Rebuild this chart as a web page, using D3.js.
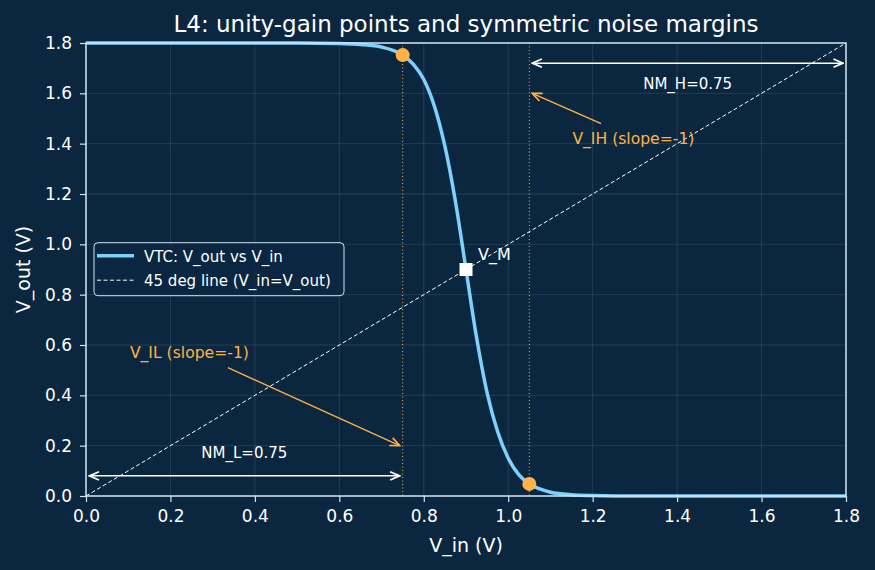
<!DOCTYPE html>
<html>
<head>
<meta charset="utf-8">
<script src="https://cdn.jsdelivr.net/npm/d3@7"></script>
<style>
  body { margin: 0; background: #0b2740; }
  text { font-family: "DejaVu Sans", sans-serif; }
</style>
</head>
<body>
<div id="chart"></div>
<script>
// VTC
const vinValues  = [0, 0.1, 0.2, 0.3, 0.4, 0.5, 0.6, 0.65, 0.7, 0.75, 0.775, 0.8, 0.825, 0.85, 0.875, 0.9,
                    0.925, 0.95, 0.975, 1.0, 1.025, 1.05, 1.075, 1.1, 1.15, 1.2, 1.3, 1.4, 1.5, 1.6, 1.7, 1.8];
const voutValues = [1.8, 1.8, 1.8, 1.8, 1.8, 1.8, 1.798, 1.794, 1.784, 1.752, 1.716, 1.655, 1.55, 1.39, 1.17, 0.9,
                    0.63, 0.41, 0.255, 0.15, 0.085, 0.048, 0.028, 0.015, 0.005, 0.002, 0, 0, 0, 0, 0, 0];
const diagonal = [0, 1.8];
const xTicks = [0, 0.2, 0.4, 0.6, 0.8, 1.0, 1.2, 1.4, 1.6, 1.8];
const yTicks = [0, 0.2, 0.4, 0.6, 0.8, 1.0, 1.2, 1.4, 1.6, 1.8];
const unityPoints = [{vin: 0.75, vout: 1.752}, {vin: 1.05, vout: 0.048}];
const switchPoint = {vin: 0.9, vout: 0.9};
const VIL = 0.75, VIH = 1.05, VDD = 1.8;
const nmLabels = ["NM_L=0.75", "NM_H=0.75"];

const width = 875, height = 570;
const margin = {top: 43, right: 29, bottom: 74, left: 86};
const w = width - margin.left - margin.right;
const h = height - margin.top - margin.bottom;

const fg = "#ffffff", orange = "#ffb347", blue = "#7fd0fa", spine = "#cfe6f5";

const svg = d3.select("#chart").append("svg")
    .attr("width", width).attr("height", height);
svg.append("rect").attr("width", width).attr("height", height).attr("fill", "#0b2740");

const defs = svg.append("defs");
function marker(id, color) {
    defs.append("marker")
        .attr("id", id).attr("viewBox", "0 0 10 10")
        .attr("refX", 9).attr("refY", 5)
        .attr("markerWidth", 12).attr("markerHeight", 12)
        .attr("markerUnits", "userSpaceOnUse")
        .attr("orient", "auto-start-reverse")
        .append("path").attr("d", "M1,1.5 L9,5 L1,8.5")
        .attr("fill", "none").attr("stroke", color).attr("stroke-width", 1.4);
}
marker("arrW", fg);
marker("arrO", orange);

const g = svg.append("g").attr("transform", `translate(${margin.left},${margin.top})`);

const x = d3.scaleLinear().domain([0, 1.8]).range([0, w]);
const y = d3.scaleLinear().domain([0, 1.8]).range([h, 0]);

// grid
g.append("g").selectAll("line").data(xTicks).join("line")
    .attr("x1", d => x(d)).attr("x2", d => x(d)).attr("y1", 0).attr("y2", h)
    .attr("stroke", "#ffffff").attr("stroke-opacity", 0.13).attr("stroke-width", 0.8);
g.append("g").selectAll("line").data(yTicks).join("line")
    .attr("y1", d => y(d)).attr("y2", d => y(d)).attr("x1", 0).attr("x2", w)
    .attr("stroke", "#ffffff").attr("stroke-opacity", 0.13).attr("stroke-width", 0.8);

// axes
const xAxis = g.append("g").attr("transform", `translate(0,${h})`)
    .call(d3.axisBottom(x).tickValues(xTicks).tickFormat(d3.format(".1f")).tickSize(6).tickPadding(8));
const yAxis = g.append("g")
    .call(d3.axisLeft(y).tickValues(yTicks).tickFormat(d3.format(".1f")).tickSize(6).tickPadding(8));
[xAxis, yAxis].forEach(a => {
    a.select(".domain").remove();
    a.selectAll("line").attr("stroke", spine).attr("stroke-width", 1.2);
    a.selectAll("text").attr("fill", fg).style("font-size", "17px").style("font-family", "DejaVu Sans, sans-serif");
});

// dotted markers at V_IL and V_IH
g.selectAll(".vline").data([VIL, VIH]).join("line")
    .attr("x1", d => x(d)).attr("x2", d => x(d)).attr("y1", 0).attr("y2", h)
    .attr("stroke", orange).attr("stroke-width", 1).attr("stroke-dasharray", "1,2.5");

// 45 degree line
g.append("line")
    .attr("x1", x(diagonal[0])).attr("y1", y(diagonal[0]))
    .attr("x2", x(diagonal[1])).attr("y2", y(diagonal[1]))
    .attr("stroke", fg).attr("stroke-width", 1).attr("stroke-dasharray", "4,2.5");

// VTC
const vtc = vinValues.map((v, i) => [v, voutValues[i]]);
g.append("path").datum(vtc)
    .attr("fill", "none").attr("stroke", blue).attr("stroke-width", 3.5)
    .attr("d", d3.line().x(d => x(d[0])).y(d => y(d[1])).curve(d3.curveMonotoneX));

// unity gain points
g.selectAll(".ug").data(unityPoints).join("circle")
    .attr("cx", d => x(d.vin)).attr("cy", d => y(d.vout)).attr("r", 7)
    .attr("fill", orange);

// switching point
g.append("rect")
    .attr("x", x(switchPoint.vin) - 6.5).attr("y", y(switchPoint.vout) - 6.5)
    .attr("width", 13).attr("height", 13).attr("fill", fg);
g.append("text").attr("x", x(switchPoint.vin) + 12).attr("y", y(switchPoint.vout) - 9.5)
    .attr("fill", fg).style("font-size", "16px").text("V_M");

// noise margin arrows
g.append("line")
    .attr("x1", x(0.008)).attr("x2", x(VIL - 0.007)).attr("y1", y(0.08)).attr("y2", y(0.08))
    .attr("stroke", fg).attr("stroke-width", 1.5)
    .attr("marker-start", "url(#arrW)").attr("marker-end", "url(#arrW)");
g.append("text").attr("x", x(VIL / 2)).attr("y", y(0.15)).attr("text-anchor", "middle")
    .attr("fill", fg).style("font-size", "15px").text(nmLabels[0]);
g.append("line")
    .attr("x1", x(VIH + 0.007)).attr("x2", x(VDD - 0.007)).attr("y1", y(1.72)).attr("y2", y(1.72))
    .attr("stroke", fg).attr("stroke-width", 1.5)
    .attr("marker-start", "url(#arrW)").attr("marker-end", "url(#arrW)");
g.append("text").attr("x", x((VIH + VDD) / 2)).attr("y", y(1.617)).attr("text-anchor", "middle")
    .attr("fill", fg).style("font-size", "15px").text(nmLabels[1]);

// slope annotations
g.append("line")
    .attr("x1", x(0.336)).attr("y1", y(0.51)).attr("x2", x(0.743)).attr("y2", y(0.2))
    .attr("stroke", orange).attr("stroke-width", 1.3).attr("marker-end", "url(#arrO)");
g.append("text").attr("x", x(0.104)).attr("y", y(0.55))
    .attr("fill", orange).style("font-size", "15.6px").text("V_IL (slope=-1)");
g.append("line")
    .attr("x1", x(1.22)).attr("y1", y(1.48)).attr("x2", x(1.057)).attr("y2", y(1.6))
    .attr("stroke", orange).attr("stroke-width", 1.3).attr("marker-end", "url(#arrO)");
g.append("text").attr("x", x(1.152)).attr("y", y(1.397))
    .attr("fill", orange).style("font-size", "15.6px").text("V_IH (slope=-1)");

// frame
g.append("rect").attr("width", w).attr("height", h)
    .attr("fill", "none").attr("stroke", spine).attr("stroke-width", 1.5);

// legend
const lg = g.append("g").attr("transform", `translate(8,${242.7 - margin.top})`);
lg.append("rect").attr("width", 250).attr("height", 53).attr("rx", 4)
    .attr("fill", "#0b2740").attr("fill-opacity", 0.8)
    .attr("stroke", spine).attr("stroke-width", 1);
lg.append("line").attr("x1", 3).attr("x2", 40).attr("y1", 13).attr("y2", 13)
    .attr("stroke", blue).attr("stroke-width", 3.5);
lg.append("text").attr("x", 50).attr("y", 19).attr("fill", fg).style("font-size", "15px")
    .text("VTC: V_out vs V_in");
lg.append("line").attr("x1", 3).attr("x2", 40).attr("y1", 37.5).attr("y2", 37.5)
    .attr("stroke", fg).attr("stroke-width", 1).attr("stroke-dasharray", "4,2.5");
lg.append("text").attr("x", 50).attr("y", 43).attr("fill", fg).style("font-size", "15px")
    .text("45 deg line (V_in=V_out)");

// title and labels
svg.append("text").attr("x", margin.left + w / 2).attr("y", 31.5).attr("text-anchor", "middle")
    .attr("fill", fg).style("font-size", "23px").text("L4: unity-gain points and symmetric noise margins");
svg.append("text").attr("x", margin.left + w / 2).attr("y", 552).attr("text-anchor", "middle")
    .attr("fill", fg).style("font-size", "19px").text("V_in (V)");
svg.append("text").attr("transform", `translate(30,${margin.top + h / 2}) rotate(-90)`)
    .attr("text-anchor", "middle")
    .attr("fill", fg).style("font-size", "19px").text("V_out (V)");
</script>
</body>
</html>
